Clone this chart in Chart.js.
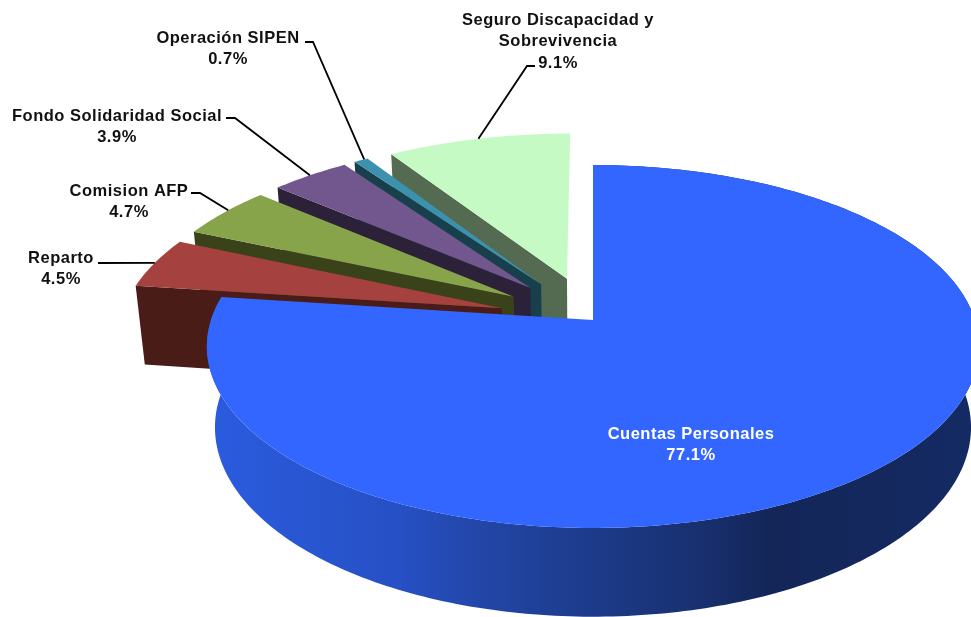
<!DOCTYPE html>
<html>
<head>
<meta charset="utf-8">
<style>
    html, body { margin: 0; padding: 0; background: #fff; overflow: hidden; }
    canvas { display: block; }
</style>
<script src="https://cdn.jsdelivr.net/npm/chart.js@4/dist/chart.umd.min.js"></script>
</head>
<body>
<canvas id="myChart" width="971" height="617"></canvas>
<script>
const categories = ['Cuentas Personales', 'Reparto', 'Comision AFP', 'Fondo Solidaridad Social', 'Operación SIPEN', 'Seguro Discapacidad y Sobrevivencia'];
const shares = [77.1, 4.5, 4.7, 3.9, 0.7, 9.1];
const explodePct = [0, 25, 25, 25, 25, 25];

const topColors = ['#3366ff', '#a5413f', '#88a44b', '#72578f', '#3c91ae', '#c6fac5'];
const wallColors = ['#1e409e', '#4a1c18', '#394219', '#2b2138', '#183f4c', '#546b52'];

// label text lines, anchor of the first line, leader elbow points (the leader ends on the slice)
const labelLayout = [
    { lines: ['Cuentas Personales'], x: 691, y: 434, color: '#fff' },
    { lines: ['Reparto'], x: 61, y: 258, leader: [[98, 263]], at: 0.5 },
    { lines: ['Comision AFP'], x: 129, y: 191, leader: [[191, 193], [200, 193]], at: 0.55 },
    { lines: ['Fondo Solidaridad Social'], x: 117, y: 116, leader: [[226, 118], [235, 118]], at: 0.5 },
    { lines: ['Operación SIPEN'], x: 228, y: 38, leader: [[305, 42], [313, 42]], at: 0.75 },
    { lines: ['Seguro Discapacidad y', 'Sobrevivencia'], x: 558, y: 20, leader: [[535, 66], [527, 66]], at: 0.5 }
];

// camera of the 3D pie: x across, t depth (+ towards viewer), z down the wall
const cam = { cx: 593, cy: 320, ax: 382, ay: 177.6, b: 0.146, c: 0.021, h: 82 };

function project(x, t, z) {
    const w = 1 - cam.b * t + cam.c * z;
    return [cam.cx + cam.ax * x / w, cam.cy + (cam.ay * t + cam.h * z) / w];
}

function slicePoint(arc, index, angle, r, z) {
    const mid = (arc.startAngle + arc.endAngle) / 2;
    const e = explodePct[index] / 100;
    return project(r * Math.cos(angle) + e * Math.cos(mid), r * Math.sin(angle) + e * Math.sin(mid), z);
}

function fillPoly(ctx, pts, fill) {
    ctx.beginPath();
    pts.forEach((p, i) => i ? ctx.lineTo(p[0], p[1]) : ctx.moveTo(p[0], p[1]));
    ctx.closePath();
    ctx.fillStyle = fill;
    ctx.fill();
}

function arcSamples(arc, index, z) {
    const pts = [];
    const steps = Math.max(8, Math.ceil((arc.endAngle - arc.startAngle) * 60));
    for (let i = 0; i <= steps; i++) {
        const a = arc.startAngle + (arc.endAngle - arc.startAngle) * i / steps;
        pts.push(slicePoint(arc, index, a, 1, z));
    }
    return pts;
}

const pie3d = {
    id: 'pie3d',
    // the library has worked out the angles, the slices are drawn in perspective here
    beforeDatasetDraw(chart) {
        const ctx = chart.ctx;
        const arcs = chart.getDatasetMeta(0).data;

        for (let i = arcs.length - 1; i >= 0; i--) {
            const arc = arcs[i];
            const top = arcSamples(arc, i, 0);
            const bottom = arcSamples(arc, i, 1);
            const apexTop = slicePoint(arc, i, arc.startAngle, 0, 0);
            const apexBottom = slicePoint(arc, i, arc.startAngle, 0, 1);

            if (i === 0) {
                const wallFill = ctx.createLinearGradient(207, 0, 971, 0);
                wallFill.addColorStop(0, '#2b5cdf');
                wallFill.addColorStop(0.253, '#2650c4');
                wallFill.addColorStop(0.357, '#2346a8');
                wallFill.addColorStop(0.514, '#1c3a88');
                wallFill.addColorStop(0.645, '#18306f');
                wallFill.addColorStop(0.737, '#142658');
                wallFill.addColorStop(1, '#142a63');
                fillPoly(ctx, top.concat(bottom.slice().reverse()), wallFill);
            } else {
                fillPoly(ctx, [apexTop, top[0], bottom[0], apexBottom], wallColors[i]);
            }
            fillPoly(ctx, [apexTop].concat(top), topColors[i]);
        }
        return false;
    },
    afterDraw(chart) {
        const ctx = chart.ctx;
        const arcs = chart.getDatasetMeta(0).data;

        ctx.save();
        ctx.font = 'bold 16.5px "Liberation Sans"';
        ctx.letterSpacing = '0.5px';
        ctx.textAlign = 'center';
        ctx.textBaseline = 'middle';
        labelLayout.forEach((label, i) => {
            const lines = label.lines.concat(shares[i].toFixed(1) + '%');
            ctx.fillStyle = label.color || '#111';
            lines.forEach((line, n) => ctx.fillText(line, label.x, label.y + n * 21.5));

            if (label.leader) {
                const arc = arcs[i];
                const a = arc.startAngle + (arc.endAngle - arc.startAngle) * label.at;
                const end = slicePoint(arc, i, a, 1, 0);
                ctx.beginPath();
                label.leader.forEach((p, n) => n ? ctx.lineTo(p[0], p[1]) : ctx.moveTo(p[0], p[1]));
                ctx.lineTo(end[0], end[1]);
                ctx.strokeStyle = '#000';
                ctx.lineWidth = 1.8;
                ctx.stroke();
            }
        });
        ctx.restore();
    }
};

var myChart = new Chart(document.getElementById('myChart').getContext('2d'), {
    type: 'pie',
    data: {
        labels: categories,
        datasets: [{
            data: shares,
            backgroundColor: topColors
        }]
    },
    options: {
        responsive: false,
        animation: false,
        plugins: {
            legend: { display: false },
            tooltip: { enabled: false }
        }
    },
    plugins: [pie3d]
});
</script>
</body>
</html>
